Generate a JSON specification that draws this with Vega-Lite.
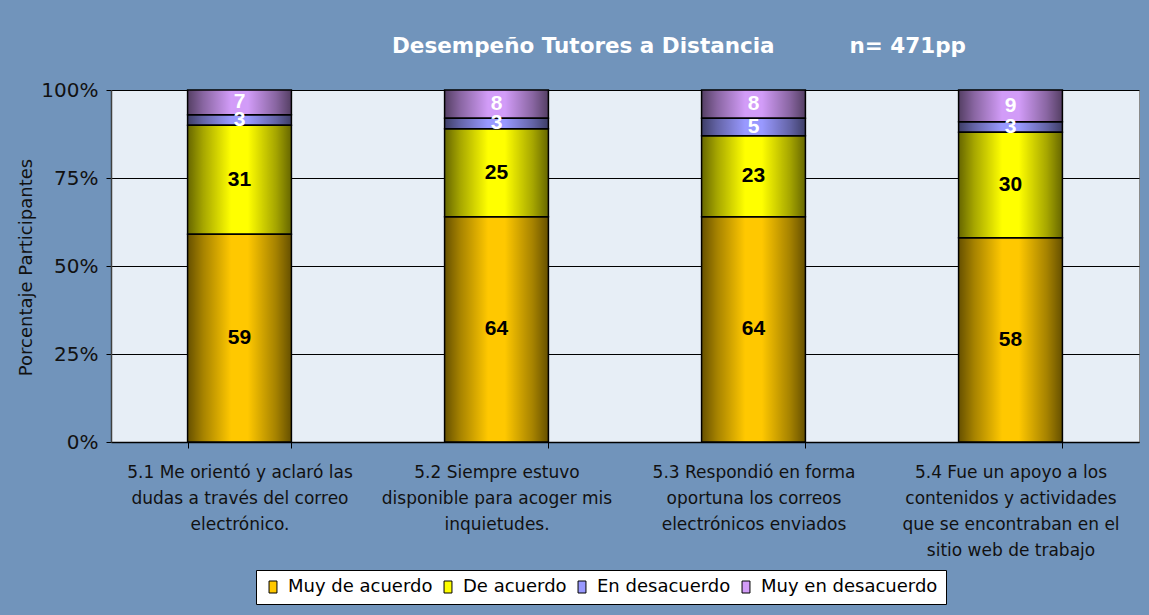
{
  "$schema": "https://vega.github.io/schema/vega-lite/v6.json",
  "width": 1028,
  "height": 352,
  "autosize": {"type": "none"},
  "padding": {"left": 111, "top": 90, "right": 10, "bottom": 173},
  "background": "#7194bb",
  "title": {
    "text": "Desempeño Tutores a Distancia\u00a0\u00a0\u00a0\u00a0\u00a0\u00a0\u00a0\u00a0\u00a0\u00a0n= 471pp",
    "anchor": "start",
    "frame": "group",
    "dx": 281,
    "offset": 23,
    "font": "DejaVu Sans",
    "fontSize": 21.5,
    "fontWeight": "bold",
    "color": "#ffffff"
  },
  "data": {
    "values": [
      {"pregunta": "5.1 Me orientó y aclaró las|dudas a través del correo|electrónico.", "categoria": "Muy de acuerdo", "orden": 1, "valor": 59},
      {"pregunta": "5.1 Me orientó y aclaró las|dudas a través del correo|electrónico.", "categoria": "De acuerdo", "orden": 2, "valor": 31},
      {"pregunta": "5.1 Me orientó y aclaró las|dudas a través del correo|electrónico.", "categoria": "En desacuerdo", "orden": 3, "valor": 3},
      {"pregunta": "5.1 Me orientó y aclaró las|dudas a través del correo|electrónico.", "categoria": "Muy en desacuerdo", "orden": 4, "valor": 7},
      {"pregunta": "5.2 Siempre estuvo|disponible para acoger mis|inquietudes.", "categoria": "Muy de acuerdo", "orden": 1, "valor": 64},
      {"pregunta": "5.2 Siempre estuvo|disponible para acoger mis|inquietudes.", "categoria": "De acuerdo", "orden": 2, "valor": 25},
      {"pregunta": "5.2 Siempre estuvo|disponible para acoger mis|inquietudes.", "categoria": "En desacuerdo", "orden": 3, "valor": 3},
      {"pregunta": "5.2 Siempre estuvo|disponible para acoger mis|inquietudes.", "categoria": "Muy en desacuerdo", "orden": 4, "valor": 8},
      {"pregunta": "5.3 Respondió en forma|oportuna los correos|electrónicos enviados", "categoria": "Muy de acuerdo", "orden": 1, "valor": 64},
      {"pregunta": "5.3 Respondió en forma|oportuna los correos|electrónicos enviados", "categoria": "De acuerdo", "orden": 2, "valor": 23},
      {"pregunta": "5.3 Respondió en forma|oportuna los correos|electrónicos enviados", "categoria": "En desacuerdo", "orden": 3, "valor": 5},
      {"pregunta": "5.3 Respondió en forma|oportuna los correos|electrónicos enviados", "categoria": "Muy en desacuerdo", "orden": 4, "valor": 8},
      {"pregunta": "5.4 Fue un apoyo a los|contenidos y actividades|que se encontraban en el|sitio web de trabajo", "categoria": "Muy de acuerdo", "orden": 1, "valor": 58},
      {"pregunta": "5.4 Fue un apoyo a los|contenidos y actividades|que se encontraban en el|sitio web de trabajo", "categoria": "De acuerdo", "orden": 2, "valor": 30},
      {"pregunta": "5.4 Fue un apoyo a los|contenidos y actividades|que se encontraban en el|sitio web de trabajo", "categoria": "En desacuerdo", "orden": 3, "valor": 3},
      {"pregunta": "5.4 Fue un apoyo a los|contenidos y actividades|que se encontraban en el|sitio web de trabajo", "categoria": "Muy en desacuerdo", "orden": 4, "valor": 9}
    ]
  },
  "transform": [
    {"stack": "valor", "groupby": ["pregunta"], "sort": [{"field": "orden", "order": "ascending"}], "offset": "normalize", "as": ["y0", "y1"]},
    {"calculate": "(datum.y0 + datum.y1) / 2", "as": "ymid"}
  ],
  "encoding": {
    "x": {
      "field": "pregunta",
      "type": "nominal",
      "sort": null,
      "title": null,
      "scale": {"paddingInner": 0.596, "paddingOuter": 0.298},
      "axis": {
        "labelExpr": "split(datum.label, '|')",
        "labelAngle": 0,
        "labelFont": "DejaVu Sans",
        "labelFontSize": 17,
        "labelLineHeight": 26,
        "labelColor": "#111111",
        "labelLimit": 400,
        "labelPadding": 16,
        "tickBand": "extent",
        "tickSize": 6,
        "tickColor": "#000000",
        "domainColor": "#000000",
        "domainWidth": 1.5
      }
    }
  },
  "layer": [
    {
      "mark": {"type": "bar"},
      "encoding": {
        "y": {
          "field": "y0",
          "type": "quantitative",
          "title": "Porcentaje Participantes",
          "scale": {"domain": [0, 1]},
          "axis": {
            "values": [0, 0.25, 0.5, 0.75, 1],
            "format": ".0%",
            "grid": true,
            "gridColor": "#000000",
            "gridWidth": 1,
            "labelFont": "DejaVu Sans",
            "labelFontSize": 20,
            "labelColor": "#111111",
            "labelPadding": 8,
            "tickSize": 5,
            "tickColor": "#000000",
            "domainColor": "#404040",
            "domainWidth": 1.5,
            "titleFont": "DejaVu Sans",
            "titleFontSize": 18,
            "titleFontWeight": "normal",
            "titleColor": "#111111",
            "titleAngle": 270,
            "titleBaseline": "alphabetic",
            "titleAnchor": "middle",
            "titleX": -80,
            "titleY": 177
          }
        },
        "y2": {"field": "y1"},
        "color": {
          "field": "categoria",
          "type": "nominal",
          "sort": ["Muy de acuerdo", "De acuerdo", "En desacuerdo", "Muy en desacuerdo"],
          "scale": {
            "domain": ["Muy de acuerdo", "De acuerdo", "En desacuerdo", "Muy en desacuerdo"],
            "range": ["#ffc800", "#ffff00", "#9999ff", "#d29cf8"]
          },
          "legend": {
            "title": null,
            "orient": "none",
            "legendX": 145,
            "legendY": 480,
            "direction": "horizontal",
            "columns": 4,
            "fillColor": "#ffffff",
            "strokeColor": "#000000",
            "padding": 8,
            "columnPadding": 6,
            "labelOffset": 6,
            "labelFont": "DejaVu Sans",
            "labelFontSize": 18,
            "labelColor": "#000000",
            "labelLimit": 400,
            "symbolType": "M-0.66,-1H0.66V1H-0.66Z",
            "symbolSize": 144,
            "symbolStrokeColor": "#000000",
            "symbolStrokeWidth": 1,
            "symbolOpacity": 1
          }
        }
      }
    },
    {
      "mark": {
        "type": "bar",
        "stroke": "#000000",
        "strokeWidth": 1.5,
        "fill": {
          "gradient": "linear",
          "x1": 0, "y1": 0, "x2": 1, "y2": 0,
          "stops": [
            {"offset": 0, "color": "rgba(0,0,0,0.6)"},
            {"offset": 0.15, "color": "rgba(0,0,0,0.35)"},
            {"offset": 0.42, "color": "rgba(0,0,0,0)"},
            {"offset": 0.58, "color": "rgba(0,0,0,0)"},
            {"offset": 0.85, "color": "rgba(0,0,0,0.35)"},
            {"offset": 1, "color": "rgba(0,0,0,0.6)"}
          ]
        }
      },
      "encoding": {
        "y": {"field": "y0", "type": "quantitative", "title": "Porcentaje Participantes"},
        "y2": {"field": "y1"}
      }
    },
    {
      "mark": {"type": "text", "font": "Liberation Sans", "fontSize": 21, "fontWeight": "bold", "baseline": "middle", "align": "center"},
      "encoding": {
        "y": {"field": "ymid", "type": "quantitative", "title": "Porcentaje Participantes"},
        "text": {"field": "valor", "type": "quantitative"},
        "color": {
          "condition": {"test": "datum.categoria == 'En desacuerdo' || datum.categoria == 'Muy en desacuerdo'", "value": "#ffffff"},
          "value": "#000000"
        }
      }
    }
  ],
  "config": {
    "font": "DejaVu Sans",
    "view": {"fill": "#e7eef6", "stroke": "#8a8a8a", "strokeWidth": 1}
  }
}
